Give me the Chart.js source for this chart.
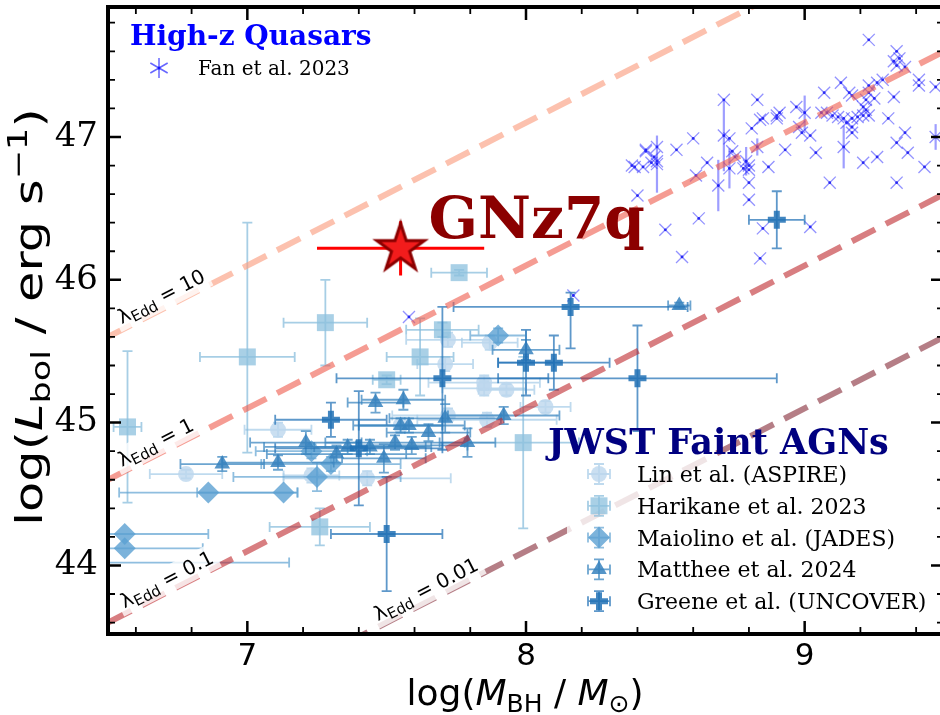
<!DOCTYPE html>
<html lang="en">
<head>
<meta charset="UTF-8">
<title>M_BH vs L_bol</title>
<script src="https://cdn.jsdelivr.net/npm/chart.js@4.4.1/dist/chart.umd.min.js"></script>
<style>
  body { margin: 0; background: #fff; overflow: hidden; }
  #wrap { width: 940px; height: 715px; overflow: hidden; }
  canvas { display: block; }
</style>
</head>
<body>
<div id="wrap"><canvas id="mbhChart" width="946" height="715"></canvas></div>
<script>
// ---- data ----
// High-z quasars (Fan et al. 2023)
const fanMass = [9.23, 9.33, 9.32, 9.34, 9.36, 9.33, 9.41, 9.41, 9.47, 9.26,
                 9.28, 9.23, 9.23, 9.25, 9.32, 9.13, 9.16, 9.17, 9.22, 9.07,
                 9.30, 9.21, 9.22, 9.21, 9.23, 9.19, 9.17, 9.15, 9.14, 9.12,
                 9.10, 9.08, 9.06, 9.17, 9.17, 9.36, 9.33, 9.37, 9.43, 9.47,
                 9.26, 9.21, 9.14, 9.09, 9.33, 9.04, 9.00, 8.98, 8.99, 9.02,
                 8.97, 8.91, 8.90, 8.90, 8.85, 8.84, 8.83, 8.81, 8.83, 8.93,
                 8.87, 8.71, 8.71, 8.73, 8.74, 8.75, 8.73, 8.79, 8.80, 8.78,
                 8.80, 8.80, 8.80, 8.69, 8.65, 8.60, 8.54, 8.61, 8.46, 8.47,
                 8.43, 8.43, 8.45, 8.47, 8.47, 8.38, 8.42, 8.39, 8.40, 8.50,
                 8.62, 8.56, 8.85, 8.84, 9.02, 8.17, 7.58];
const fanLbol = [47.68, 47.60, 47.53, 47.55, 47.49, 47.50, 47.40, 47.36, 47.35, 47.38,
                 47.40, 47.36, 47.31, 47.27, 47.28, 47.38, 47.31, 47.29, 47.26, 47.31,
                 47.13, 47.21, 47.19, 47.15, 47.15, 47.14, 47.13, 47.10, 47.13, 47.14,
                 47.15, 47.17, 47.17, 47.07, 47.03, 47.03, 46.96, 46.89, 46.79, 47.00,
                 46.86, 46.82, 46.93, 46.68, 46.68, 46.89, 47.17, 47.07, 47.03, 47.01,
                 47.21, 47.17, 47.13, 47.15, 47.13, 47.12, 47.26, 47.06, 46.93, 46.91,
                 46.79, 47.26, 47.01, 46.99, 46.90, 46.86, 46.78, 46.83, 46.80, 46.78,
                 46.77, 46.68, 46.56, 46.66, 46.82, 46.99, 46.91, 46.73, 46.86, 46.93,
                 46.90, 46.91, 46.82, 46.83, 46.81, 46.80, 46.79, 46.79, 46.59, 46.35,
                 46.43, 46.16, 46.36, 46.15, 46.37, 45.89, 45.74];
const fanLbolErr = [0, 0, 0, 0, 0, 0, 0, 0, 0, 0,
                    0, 0, 0, 0, 0, 0, 0, 0, 0, 0,
                    0, 0, 0, 0, 0, 0, 0, 0, 0, 0,
                    0, 0, 0, 0, 0, 0, 0, 0, 0, 0.09,
                    0, 0, 0.15, 0, 0, 0, 0.12, 0, 0, 0,
                    0, 0, 0, 0, 0, 0, 0, 0, 0.06, 0,
                    0, 0, 0.25, 0, 0, 0, 0.14, 0.10, 0, 0,
                    0, 0, 0, 0.18, 0, 0, 0, 0, 0, 0,
                    0, 0, 0, 0, 0.2, 0, 0, 0, 0, 0,
                    0, 0, 0, 0, 0, 0, 0];

// JWST faint AGNs
const linMass = [6.78, 7.11, 7.72, 7.87, 7.71, 7.85, 7.85, 7.93, 7.86, 7.72, 7.43, 7.23, 8.07, 7.55];
const linLbol = [44.64, 44.95, 45.58, 45.56, 45.41, 45.28, 45.24, 45.23, 45.02, 45.05, 44.61, 44.63, 45.11, 44.98];
const linMassErr = [0.13, 0.12, 0.15, 0.1, 0.1, 0.2, 0.15, 0.1, 0.25, 0.2, 0.3, 0.1, 0.09, 0.15];
const linLbolErr = [0.03, 0.05, 0.05, 0.05, 0.05, 0.05, 0.05, 0.04, 0.05, 0.05, 0.05, 0.05, 0.04, 0.05];

const hariMass = [6.57, 7.00, 7.28, 7.26, 7.76, 7.62, 7.50, 7.70, 7.99];
const hariLbol = [44.97, 45.46, 45.70, 44.27, 46.05, 45.46, 45.30, 45.65, 44.86];
const hariMassErr = [0.05, 0.17, 0.15, 0.18, 0.1, 0.12, 0.05, 0.13, 0.2];
const hariLbolErr = [0.53, [0.67, 0.94], 0.3, 0.13, 0.02, 0.27, 0.03, 0.05, 0.6];

const maioMass = [6.56, 6.56, 6.45, 6.86, 7.13, 7.25, 7.30, 7.23, 7.90];
const maioLbol = [44.22, 44.12, 44.02, 44.51, 44.51, 44.62, 44.71, 44.80, 45.61];
const maioMassErr = [0.3, 0.28, 0.7, 0.32, [0.31, 0.05], 0.3, 0.25, 0.2, 0.1];
const maioLbolErr = [0, 0, 0, 0, 0, 0.1, 0.05, 0.05, 0.05];

const mattMass = [6.91, 7.11, 7.21, 7.46, 7.56, 7.32, 7.36, 7.44, 7.49, 7.53, 7.55, 7.58, 7.65, 7.59, 7.71, 7.79, 7.92, 8.00, 8.55];
const mattLbol = [44.71, 44.72, 44.86, 45.14, 45.16, 44.78, 44.83, 44.83, 44.75, 44.86, 44.98, 44.98, 44.93, 44.84, 45.03, 44.86, 45.05, 45.51, 45.82];
const mattMassErr = [0.15, 0.2, 0.2, 0.1, 0.15, 0.25, 0.3, 0.2, 0.15, 0.25, 0.15, 0.2, 0.15, 0.2, 0.2, 0.1, 0.2, 0.12, 0.04];
const mattLbolErr = [0.05, 0.05, 0.08, 0.07, 0.07, 0.06, 0.05, 0.05, 0.1, 0.05, 0.05, 0.05, 0.06, 0.06, 0.1, 0.1, 0.06, 0.07, 0.02];

const greeMass = [8.90, 8.16, 8.10, 8.00, 8.40, 7.70, 7.30, 7.40, 7.50];
const greeLbol = [46.42, 45.81, 45.42, 45.42, 45.31, 45.31, 45.02, 44.82, 44.22];
const greeMassErr = [0.1, 0.42, 0.2, 0.1, 0.5, 0.38, 0.2, 0.3, 0.2];
const greeLbolErr = [0.2, [0.29, 0.1], 0.19, 0.23, 0.37, 0.5, 0.12, 0.4, 0.4];

// GNz7q
const gnzMass = [7.55];
const gnzLbol = [46.22];
const gnzMassErr = [0.3];
const gnzLbolErr = [0.19];

// Eddington ratio lines, log L = 38.1 + log M + log(lambda)
const eddRatios = [10, 1, 0.1, 0.01];
const eddNames = ['10', '1', '0.1', '0.01'];
const eddMassEnds = [6.5, 9.5];
const eddLabelMass = [6.71, 6.69, 6.73, 7.66];

const xTicks = [7, 8, 9];
const yTicks = [44, 45, 46, 47];

// ---- helpers ----
const pts = (xs, ys) => xs.map((x, i) => ({ x: x, y: ys[i] }));
const pair = e => Array.isArray(e) ? e : [e, e];
const eddColors = ['rgba(251,160,130,0.65)', 'rgba(239,90,75,0.6)', 'rgba(190,40,45,0.6)', 'rgba(120,20,35,0.55)'];

function starImage(outer, fill, edge, lw) {
  const size = Math.ceil(2 * outer + 2 * lw + 4);
  const c = document.createElement('canvas');
  c.width = size; c.height = size;
  const g = c.getContext('2d');
  const inner = outer * 0.381966;
  g.beginPath();
  for (let i = 0; i < 10; i++) {
    const r = i % 2 ? inner : outer;
    const a = -Math.PI / 2 + i * Math.PI / 5;
    g.lineTo(size / 2 + r * Math.cos(a), size / 2 + r * Math.sin(a));
  }
  g.closePath();
  g.fillStyle = fill; g.fill();
  g.lineJoin = 'miter'; g.lineWidth = lw; g.strokeStyle = edge; g.stroke();
  return c;
}

// error bars are drawn just under the markers of each dataset
const errorBars = {
  id: 'errorBars',
  beforeDatasetDraw(chart, args) {
    const ds = chart.data.datasets[args.index];
    if (!ds.errStyle) return;
    const { ctx, chartArea: a } = chart;
    const sx = chart.scales.x, sy = chart.scales.y;
    const st = ds.errStyle;
    ctx.save();
    ctx.beginPath();
    ctx.rect(a.left, a.top, a.right - a.left, a.bottom - a.top);
    ctx.clip();
    ctx.strokeStyle = st.color;
    ctx.lineWidth = st.width;
    ds.data.forEach((p, i) => {
      const px = sx.getPixelForValue(p.x), py = sy.getPixelForValue(p.y);
      ctx.beginPath();
      if (ds.xErr && ds.xErr[i]) {
        const [lo, hi] = pair(ds.xErr[i]);
        const x0 = sx.getPixelForValue(p.x - lo), x1 = sx.getPixelForValue(p.x + hi);
        ctx.moveTo(x0, py); ctx.lineTo(x1, py);
        if (st.cap) {
          ctx.moveTo(x0, py - st.cap); ctx.lineTo(x0, py + st.cap);
          ctx.moveTo(x1, py - st.cap); ctx.lineTo(x1, py + st.cap);
        }
      }
      if (ds.yErr && ds.yErr[i]) {
        const [lo, hi] = pair(ds.yErr[i]);
        const y0 = sy.getPixelForValue(p.y - lo), y1 = sy.getPixelForValue(p.y + hi);
        ctx.moveTo(px, y0); ctx.lineTo(px, y1);
        if (st.cap) {
          ctx.moveTo(px - st.cap, y0); ctx.lineTo(px + st.cap, y0);
          ctx.moveTo(px - st.cap, y1); ctx.lineTo(px + st.cap, y1);
        }
      }
      ctx.stroke();
      if (st.dot) {
        ctx.fillStyle = st.dot;
        ctx.beginPath(); ctx.arc(px, py, 1.4, 0, 2 * Math.PI); ctx.fill();
      }
    });
    ctx.restore();
  }
};

function drawParts(ctx, parts, x, y, center) {
  let w = 0;
  parts.forEach(p => { ctx.font = p.font; p.w = ctx.measureText(p.t).width; w += p.w; });
  let cx = center ? x - w / 2 : x;
  parts.forEach(p => { ctx.font = p.font; ctx.fillText(p.t, cx, y + (p.dy || 0)); cx += p.w; });
  return w;
}

function handle(ctx, x, y, style, col) {
  ctx.save();
  ctx.strokeStyle = style.err; ctx.lineWidth = 1.8;
  ctx.beginPath();
  ctx.moveTo(x - 11, y); ctx.lineTo(x + 11, y);
  ctx.moveTo(x - 11, y - 5); ctx.lineTo(x - 11, y + 5);
  ctx.moveTo(x + 11, y - 5); ctx.lineTo(x + 11, y + 5);
  ctx.moveTo(x, y - 10); ctx.lineTo(x, y + 10);
  ctx.moveTo(x - 5, y - 10); ctx.lineTo(x + 5, y - 10);
  ctx.moveTo(x - 5, y + 10); ctx.lineTo(x + 5, y + 10);
  ctx.stroke();
  ctx.fillStyle = col; ctx.strokeStyle = col;
  ctx.lineWidth = style.bw;
  Chart.helpers.drawPoint(ctx, { pointStyle: style.shape, radius: style.r, rotation: 0, borderWidth: style.bw }, x, y);
  ctx.restore();
}

const serif = '"DejaVu Serif", serif';
const sans = '"DejaVu Sans", sans-serif';

const series = {
  lin:  { fill: 'rgba(189,215,238,0.8)', err: 'rgba(170,205,232,0.75)', shape: 'circle', r: 8, bw: 0 },
  hari: { fill: 'rgba(140,192,222,0.75)', err: 'rgba(130,185,218,0.7)', shape: 'rect', r: 12, bw: 0 },
  maio: { fill: 'rgba(91,160,210,0.8)', err: 'rgba(95,162,210,0.7)', shape: 'rectRot', r: 11, bw: 0 },
  matt: { fill: 'rgba(55,130,190,0.85)', err: 'rgba(60,135,192,0.75)', shape: 'triangle', r: 9, bw: 0 },
  gree: { fill: 'rgba(33,113,181,0.85)', err: 'rgba(40,118,184,0.75)', shape: 'cross', r: 9, bw: 6 }
};

// labels, legends, frame and axis titles
const decorations = {
  id: 'decorations',
  afterDraw(chart) {
    const { ctx, chartArea: a } = chart;
    const sx = chart.scales.x, sy = chart.scales.y;
    ctx.save();
    ctx.textAlign = 'left';
    ctx.textBaseline = 'alphabetic';

    // Eddington ratio labels along the lines
    eddRatios.forEach((lam, i) => {
      const logL = m => 38.1 + m + Math.log10(lam);
      const x0 = sx.getPixelForValue(eddMassEnds[0]), y0 = sy.getPixelForValue(logL(eddMassEnds[0]));
      const x1 = sx.getPixelForValue(eddMassEnds[1]), y1 = sy.getPixelForValue(logL(eddMassEnds[1]));
      const ang = Math.atan2(y1 - y0, x1 - x0);
      const m = eddLabelMass[i];
      const cx = sx.getPixelForValue(m), cy = sy.getPixelForValue(logL(m));
      const parts = [
        { t: 'λ', font: '20px ' + sans },
        { t: 'Edd', font: '15px ' + sans, dy: 4 },
        { t: ' = ' + eddNames[i], font: '20px ' + sans }
      ];
      let w = 0;
      parts.forEach(p => { ctx.font = p.font; w += ctx.measureText(p.t).width; });
      ctx.save();
      ctx.beginPath();
      ctx.rect(a.left, a.top, a.right - a.left, a.bottom - a.top);
      ctx.clip();
      ctx.translate(cx, cy);
      ctx.rotate(ang);
      const off = -12;
      ctx.fillStyle = 'rgba(255,255,255,0.8)';
      ctx.fillRect(-w / 2 - 4, off - 12, w + 8, 26);
      ctx.fillStyle = '#000';
      drawParts(ctx, parts, 0, off + 7, true);
      ctx.restore();
    });

    // GNz7q label
    ctx.fillStyle = '#8b0000';
    ctx.font = 'bold 58px ' + serif;
    ctx.fillText('GNz7q', sx.getPixelForValue(7.65), sy.getPixelForValue(46.29));

    // high-z quasar legend
    ctx.fillStyle = '#0000ff';
    ctx.font = 'bold 28px ' + serif;
    ctx.fillText('High-z Quasars', 130, 45);
    ctx.save();
    ctx.strokeStyle = 'rgba(0,0,255,0.6)';
    ctx.lineWidth = 1.5;
    ctx.beginPath();
    for (let k = 0; k < 3; k++) {
      const t = Math.PI / 2 + k * Math.PI / 3;
      ctx.moveTo(159 - 10 * Math.cos(t), 68 - 10 * Math.sin(t));
      ctx.lineTo(159 + 10 * Math.cos(t), 68 + 10 * Math.sin(t));
    }
    ctx.stroke();
    ctx.fillStyle = 'rgba(0,0,255,0.8)';
    ctx.beginPath(); ctx.arc(159, 68, 1.5, 0, 2 * Math.PI); ctx.fill();
    ctx.restore();
    ctx.fillStyle = '#000';
    ctx.font = '20px ' + serif;
    ctx.fillText('Fan et al. 2023', 198, 75);

    // JWST legend
    ctx.fillStyle = 'rgba(255,255,255,0.8)';
    ctx.fillRect(567, 456, 366, 164);
    ctx.fillStyle = '#000080';
    ctx.font = 'bold 35px ' + serif;
    ctx.fillText('JWST Faint AGNs', 548, 454);
    const rows = [
      ['lin', 'Lin et al. (ASPIRE)'],
      ['hari', 'Harikane et al. 2023'],
      ['maio', 'Maiolino et al. (JADES)'],
      ['matt', 'Matthee et al. 2024'],
      ['gree', 'Greene et al. (UNCOVER)']
    ];
    rows.forEach((r, i) => {
      const base = 482 + i * 31.8;
      const st = series[r[0]];
      handle(ctx, 599, base - 8, st, st.fill);
      ctx.fillStyle = '#000';
      ctx.font = '22px ' + serif;
      ctx.fillText(r[1], 637, base);
    });

    // frame and inward ticks
    ctx.strokeStyle = '#000';
    ctx.lineWidth = 4;
    ctx.strokeRect(a.left, a.top, a.right - a.left, a.bottom - a.top);
    const tick = (len, lw, xs, ys) => {
      ctx.lineWidth = lw;
      ctx.beginPath();
      xs.forEach(v => {
        const p = sx.getPixelForValue(v);
        ctx.moveTo(p, a.bottom); ctx.lineTo(p, a.bottom - len);
        ctx.moveTo(p, a.top); ctx.lineTo(p, a.top + len);
      });
      ys.forEach(v => {
        const p = sy.getPixelForValue(v);
        ctx.moveTo(a.left, p); ctx.lineTo(a.left + len, p);
        ctx.moveTo(a.right, p); ctx.lineTo(a.right - len, p);
      });
      ctx.stroke();
    };
    const minorX = [], minorY = [];
    for (let v = 6.6; v < 9.5; v += 0.2) {
      const r = Math.round(v * 10) / 10;
      if (!xTicks.includes(r)) minorX.push(r);
    }
    for (let v = 43.6; v < 47.9; v += 0.2) {
      const r = Math.round(v * 10) / 10;
      if (!yTicks.includes(r)) minorY.push(r);
    }
    tick(13, 2.5, xTicks, yTicks);
    tick(7, 1.8, minorX, minorY);

    // axis titles
    ctx.fillStyle = '#000';
    drawParts(ctx, [
      { t: 'log(', font: '36px ' + sans },
      { t: 'M', font: 'italic 36px ' + sans },
      { t: 'BH', font: '25px ' + sans, dy: 7 },
      { t: ' / ', font: '36px ' + sans },
      { t: 'M', font: 'italic 36px ' + sans },
      { t: '⊙', font: '25px ' + sans, dy: 7 },
      { t: ')', font: '36px ' + sans }
    ], 525, 705, true);
    ctx.save();
    ctx.translate(42, 317);
    ctx.rotate(-Math.PI / 2);
    ctx.scale(1.3, 1);
    drawParts(ctx, [
      { t: 'log(', font: '38px ' + sans },
      { t: 'L', font: 'italic 38px ' + sans },
      { t: 'bol', font: '27px ' + sans, dy: 8 },
      { t: ' / erg s', font: '38px ' + sans },
      { t: '−1', font: '27px ' + sans, dy: -15 },
      { t: ')', font: '38px ' + sans }
    ], 0, 0, true);
    ctx.restore();
    ctx.restore();
  }
};

// ---- datasets ----
const eddSets = eddRatios.map((lam, i) => ({
  type: 'line',
  data: eddMassEnds.map(m => ({ x: m, y: 38.1 + m + Math.log10(lam) })),
  borderColor: eddColors[i],
  borderWidth: 6,
  borderDash: [26, 12],
  borderCapStyle: 'butt',
  pointRadius: 0,
  fill: false
}));

function agnSet(key, xs, ys, xe, ye) {
  const st = series[key];
  return {
    data: pts(xs, ys),
    xErr: xe, yErr: ye,
    errStyle: { color: st.err, width: 1.8, cap: 5 },
    pointStyle: st.shape,
    pointRadius: st.r,
    pointBackgroundColor: st.fill,
    pointBorderColor: st.fill,
    pointBorderWidth: st.bw
  };
}

const datasets = [
  {
    data: pts(gnzMass, gnzLbol),
    xErr: gnzMassErr, yErr: gnzLbolErr,
    errStyle: { color: '#ff0000', width: 3, cap: 0 },
    pointStyle: starImage(25, '#f21c1c', '#8b0000', 3),
    pointRadius: 25
  },
  ...eddSets,
  agnSet('gree', greeMass, greeLbol, greeMassErr, greeLbolErr),
  agnSet('matt', mattMass, mattLbol, mattMassErr, mattLbolErr),
  agnSet('maio', maioMass, maioLbol, maioMassErr, maioLbolErr),
  agnSet('hari', hariMass, hariLbol, hariMassErr, hariLbolErr),
  agnSet('lin', linMass, linLbol, linMassErr, linLbolErr),
  {
    data: pts(fanMass, fanLbol),
    yErr: fanLbolErr,
    errStyle: { color: 'rgba(40,40,255,0.45)', width: 2.2, cap: 0, dot: 'rgba(0,0,230,0.85)' },
    pointStyle: 'crossRot',
    pointRadius: 8.5,
    pointBorderColor: 'rgba(40,40,255,0.5)',
    pointBorderWidth: 1.3
  }
];

new Chart(document.getElementById('mbhChart'), {
  type: 'scatter',
  data: { datasets: datasets },
  options: {
    responsive: false,
    animation: false,
    devicePixelRatio: 1,
    layout: { autoPadding: false, padding: { top: 7, right: 2, left: 0, bottom: 0 } },
    plugins: { legend: { display: false }, tooltip: { enabled: false } },
    scales: {
      x: {
        type: 'linear', min: 6.5, max: 9.5,
        afterBuildTicks: s => { s.ticks = xTicks.map(v => ({ value: v })); },
        // fixed axis band, no extra room for the end labels
        afterFit: s => { s.height = 81; s.paddingLeft = 0; s.paddingRight = 0; },
        grid: { display: false, drawTicks: false },
        border: { display: false },
        ticks: { color: '#000', padding: 4, maxRotation: 0, font: { family: 'DejaVu Sans', size: 31 }, callback: v => v }
      },
      y: {
        type: 'linear', min: 43.52, max: 47.91,
        afterBuildTicks: s => { s.ticks = yTicks.map(v => ({ value: v })); },
        afterFit: s => { s.width = 108; s.paddingTop = 0; s.paddingBottom = 0; },
        grid: { display: false, drawTicks: false },
        border: { display: false },
        ticks: { color: '#000', padding: 10, font: { family: 'DejaVu Serif', size: 34 }, callback: v => v }
      }
    }
  },
  plugins: [errorBars, decorations]
});
</script>
</body>
</html>
